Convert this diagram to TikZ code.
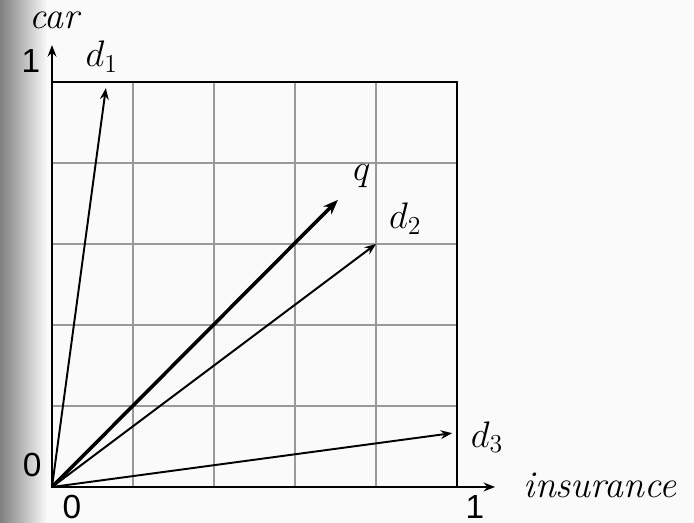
\documentclass[tikz,border=0pt]{standalone}
\usepackage{fix-cm}
\usepackage{fontspec}
\newfontfamily\numfont{Liberation Sans}
\usetikzlibrary{arrows.meta,positioning}
\tikzset{
bgshade/.style={left color=black!50,right color=white!98!black},
gridline/.style={draw=black!40,line width=0.8pt},
frameline/.style={draw=black,line width=1.2pt},
axisarrow/.style={-{Stealth[length=6.5pt,width=5pt]},line width=1.1pt},
vecarrow/.style={-{Stealth[length=6.5pt,width=5pt]},line width=1.1pt},
qarrow/.style={-{Stealth[length=8.5pt,width=6.5pt]},line width=2pt},
axislabel/.style={inner sep=0pt,font=\fontsize{21.5}{25}\selectfont\itshape},
veclabel/.style={inner sep=0pt,font=\fontsize{21}{25}\selectfont},
numlabel/.style={inner sep=0pt,font=\fontsize{19}{23}\selectfont\numfont}
}

\begin{document}
\begin{tikzpicture}[x=8.1cm,y=8.1cm]
% page and slide shading
\useasboundingbox (-0.1284,-0.0889) rectangle (1.5852,1.2025);
\fill[white!98!black] (-0.1284,-0.0889) rectangle (1.5852,1.2025);
\fill[bgshade] (-0.1284,-0.0889) rectangle (-0.012,1.2025);
% grid
\foreach \g in {0.2,0.4,0.6,0.8}{
\draw[gridline] (\g,0) -- (\g,1);
\draw[gridline] (0,\g) -- (1,\g);
}
\draw[frameline] (0,0) rectangle (1,1);
% axes
\coordinate (O) at (0,0);
\coordinate (xend) at (1.094,0);
\coordinate (yend) at (0,1.091);
\draw[axisarrow] (O) -- (xend);
\draw[axisarrow] (O) -- (yend);
% vectors
\coordinate (d1) at (0.133,0.985);
\coordinate (q) at (0.706,0.709);
\coordinate (d2) at (0.800,0.600);
\coordinate (d3) at (0.988,0.133);
\draw[vecarrow] (O) -- (d1);
\draw[qarrow] (O) -- (q);
\draw[vecarrow] (O) -- (d2);
\draw[vecarrow] (O) -- (d3);
% labels
\node[axislabel] (carlab) at (0.005,1.153) {car};
\node[axislabel] (inslab) at (1.353,0.004) {insurance};
\node[numlabel] (yone) at (-0.052,1.052) {1};
\node[numlabel] (yzero) at (-0.049,0.054) {0};
\node[numlabel] (xzero) at (0.049,-0.049) {0};
\node[numlabel] (xone) at (1.044,-0.049) {1};
\node[veclabel] (d1lab) at (0.123,1.062) {$d_1$};
\node[veclabel] (qlab) at (0.765,0.768) {$q$};
\node[veclabel] (d2lab) at (0.872,0.662) {$d_2$};
\node[veclabel] (d3lab) at (1.074,0.123) {$d_3$};
\end{tikzpicture}
\end{document}
